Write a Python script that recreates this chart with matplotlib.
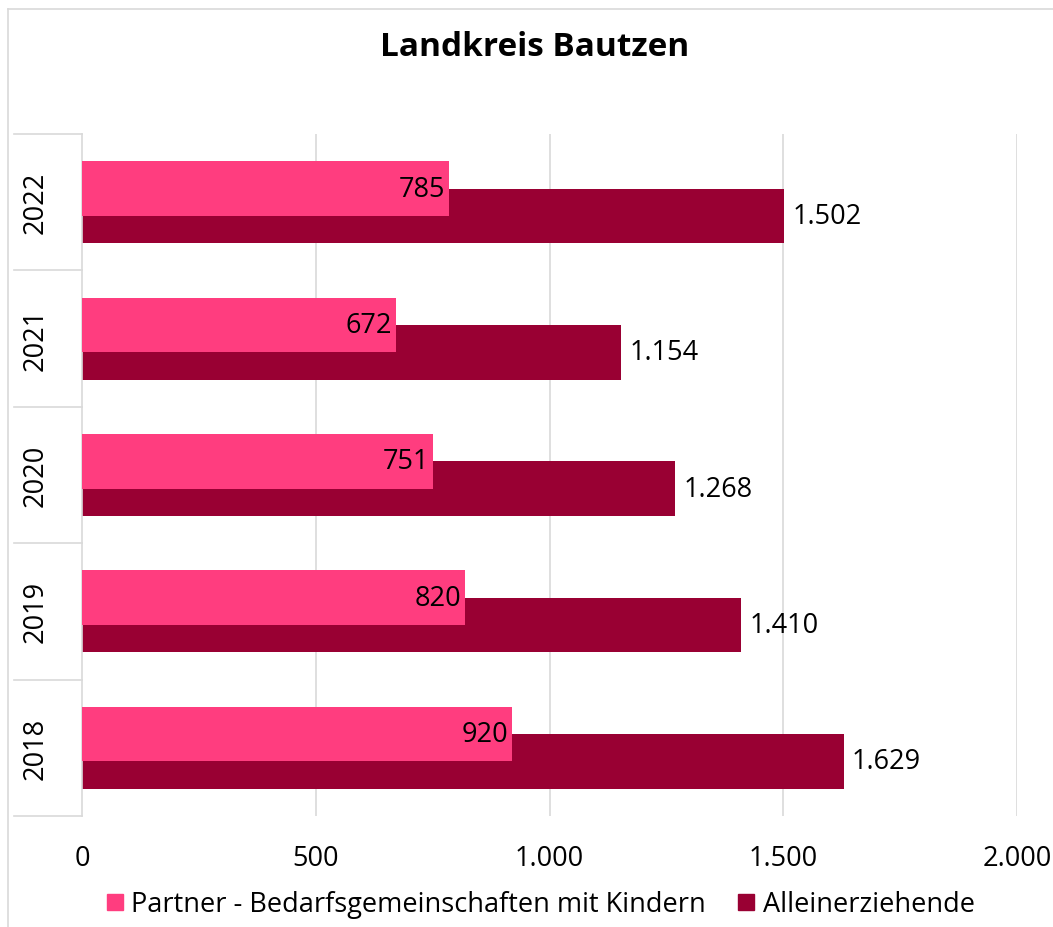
import matplotlib.pyplot as plt
from matplotlib.lines import Line2D

years = ["2018", "2019", "2020", "2021", "2022"]
partner = [920, 820, 751, 672, 785]
allein = [1629, 1410, 1268, 1154, 1502]
xticks = [0, 500, 1000, 1500, 2000]
xticklabels = ["0", "500", "1.000", "1.500", "2.000"]

pink = "#FF3D7F"
dark = "#990033"
grid = "#D9D9D9"

plt.rcParams['font.family'] = ['Open Sans', 'DejaVu Sans']

W, H = 1053, 928
fig = plt.figure(figsize=(W / 100, H / 100), dpi=100)

# axes box in pixels: x 82..1017, y 135..817
ax = fig.add_axes([82 / W, 1 - 817 / H, (1017 - 82) / W, (817 - 135) / H])

pos = list(range(len(years)))
ax.barh([p - 0.1 for p in pos], allein, height=0.40, color=dark, zorder=2)
ax.barh([p + 0.1 for p in pos], partner, height=0.40, color=pink, zorder=3)


def fmt(v):
    return f"{v:,}".replace(",", ".")


fs = 19.5
for p, v in zip(pos, partner):
    ax.text(v - 8, p + 0.1, fmt(v), ha="right", va="center", fontsize=fs, color="black", zorder=4)
for p, v in zip(pos, allein):
    ax.text(v + 18, p - 0.1, fmt(v), ha="left", va="center", fontsize=fs, color="black", zorder=4)

ax.set_xlim(0, 2000)
ax.set_ylim(-0.5, len(years) - 0.5)
ax.set_xticks(xticks)
ax.set_xticklabels(xticklabels, fontsize=fs)
ax.tick_params(axis="x", length=0, pad=20)
ax.set_yticks([])
for xv in xticks[1:]:
    ax.axvline(xv, color=grid, lw=1.2, zorder=1)
for s in ["top", "right", "bottom"]:
    ax.spines[s].set_visible(False)
ax.spines["left"].set_color(grid)
ax.spines["left"].set_linewidth(1.2)

# category label boxes on the left
trans = ax.get_yaxis_transform()
xleft = (14 - 82) / (1017 - 82)
for b in range(len(years) + 1):
    ax.plot([xleft, 0], [b - 0.5, b - 0.5], transform=trans, color=grid, lw=1.2, clip_on=False)
for p, y in zip(pos, years):
    ax.text((36 - 82) / (1017 - 82), p, y, transform=trans, rotation=90,
            ha="center", va="center", fontsize=fs)

fig.text(535 / W, 1 - 47 / H, "Landkreis Bautzen", ha="center", va="center",
         fontsize=24, fontweight="bold")

# legend
handles = [
    Line2D([], [], marker="s", ls="", markersize=12, color=pink),
    Line2D([], [], marker="s", ls="", markersize=12, color=dark),
]
fig.legend(handles, ["Partner - Bedarfsgemeinschaften mit Kindern", "Alleinerziehende"],
           loc="center", bbox_to_anchor=(538 / W, 1 - 905 / H), ncol=2, frameon=False,
           fontsize=fs, handletextpad=0.1, columnspacing=1.0, handlelength=1.0)

# outer chart border (top and left visible)
fig.add_artist(Line2D([8 / W, 1], [1 - 10 / H, 1 - 10 / H], transform=fig.transFigure,
                      color=grid, lw=1.2))
fig.add_artist(Line2D([8 / W, 8 / W], [0, 1 - 10 / H], transform=fig.transFigure,
                      color=grid, lw=1.2))

fig.savefig("out.png", dpi=100)
